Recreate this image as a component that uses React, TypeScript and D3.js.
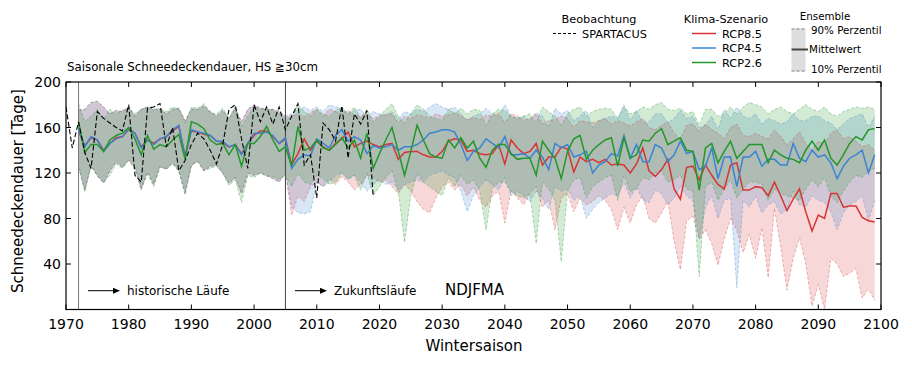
import React from 'react';
import * as d3 from 'd3';

// ---------- DATA ----------
const OBS_START = 1970;
const obsSpartacus = [
  178, 142, 165, 138, 124, 174, 168, 164, 160, 157,
  180, 118, 112, 177, 178, 181, 143, 160, 122, 131,
  145, 155, 150, 140, 128, 145, 176, 180, 150, 124,
  180, 165, 178, 163, 178, 158, 170, 181, 127, 136,
  98, 164, 158, 148, 179, 133, 172, 163, 175, 100,
];

const HIST_START = 1972;
const histMeanR = [
  157, 144, 151, 149, 140, 146, 151, 152,
  158, 155, 143, 149, 146, 150, 152, 157, 161, 135,
  157, 156, 154, 153, 148, 147, 143, 145, 137, 146,
  153, 157, 157, 152, 146, 150,
];
const histMeanB = [
  158, 143, 152, 149, 139, 146, 150, 152,
  159, 155, 142, 149, 145, 150, 152, 158, 162, 134,
  158, 156, 155, 153, 148, 148, 143, 145, 136, 146,
  155, 155, 156, 153, 146, 151,
];
const histMeanG = [
  165, 138, 145, 145, 139, 149, 153, 155,
  160, 150, 136, 153, 141, 145, 143, 149, 154, 132,
  165, 163, 159, 149, 145, 146, 136, 145, 126, 146,
  146, 152, 161, 149, 139, 143,
];
const histP90RB = [
  175, 176, 182, 183, 178, 172, 175, 174,
  178, 170, 176, 178, 176, 176, 172, 176, 177, 166,
  176, 176, 179, 174, 170, 175, 168, 177, 165, 176,
  180, 177, 176, 176, 174, 170,
];
const histP10RB = [
  125, 105, 126, 118, 111, 122, 130, 125,
  131, 124, 105, 121, 110, 126, 123, 129, 122, 101,
  127, 130, 122, 126, 127, 120, 111, 116, 102, 120,
  118, 120, 118, 115, 112, 120,
];
const histP90G = [
  181, 165, 170, 176, 167, 176, 172, 175,
  177, 172, 176, 178, 175, 177, 174, 178, 176, 164,
  178, 177, 181, 173, 172, 177, 168, 179, 161, 170,
  178, 176, 177, 175, 172, 168,
];
const histP10G = [
  128, 103, 127, 117, 112, 118, 128, 124,
  132, 126, 107, 119, 108, 125, 124, 128, 121, 104,
  126, 131, 122, 124, 126, 120, 109, 114, 94, 118,
  116, 120, 117, 117, 114, 118,
];

const FUT_START = 2006;
const futMeanR = [
  127, 137, 150, 140,
  148, 143, 140, 146, 150, 156, 143, 146, 148, 145,
  143, 145, 146, 132, 138, 139, 139, 136, 134, 134,
  139, 148, 150, 149, 139, 140, 137, 136, 137, 145,
  128, 149, 142, 137, 139, 146, 127, 134, 134, 143,
  141, 121, 134, 130, 132, 129, 132, 127, 128, 127,
  120, 128, 142, 122, 117, 123, 132, 106, 97, 125,
  126, 114, 127, 118, 110, 106, 127, 129, 105, 105,
  108, 107, 100, 112, 100, 87, 97, 106, 86, 69,
  83, 80, 102, 102, 90, 91, 91, 81, 78, 77,
];
const futMeanB = [
  124, 132, 136, 135,
  150, 146, 142, 153, 158, 148, 152, 149, 137, 144,
  142, 143, 145, 140, 143, 143, 145, 149, 155, 156,
  158, 158, 156, 145, 131, 139, 142, 150, 146, 142,
  152, 136, 136, 137, 133, 140, 134, 123, 146, 142,
  145, 134, 136, 139, 120, 127, 130, 137, 135, 153,
  133, 145, 130, 130, 145, 142, 130, 136, 148, 137,
  139, 123, 126, 142, 115, 134, 134, 108, 134, 134,
  139, 126, 132, 132, 127, 127, 146, 133, 130, 140,
  134, 136, 129, 115, 126, 133, 136, 140, 120, 136,
];
const futMeanG = [
  126, 161, 140, 142,
  149, 142, 140, 145, 151, 142, 149, 133, 155, 124,
  137, 149, 160, 139, 118, 139, 162, 149, 137, 134,
  133, 149, 142, 151, 142, 148, 133, 125, 140, 145,
  145, 137, 132, 133, 133, 118, 148, 140, 133, 115,
  139, 150, 153, 132, 140, 145, 149, 151, 126, 151,
  133, 136, 149, 148, 155, 159, 145, 148, 151, 140,
  139, 105, 142, 146, 129, 139, 148, 133, 139, 145,
  145, 145, 129, 140, 136, 133, 132, 129, 140, 148,
  140, 149, 133, 127, 136, 146, 152, 149, 158, 159,
];
const futP90R = [
  170, 172, 169, 173,
  176, 170, 176, 174, 172, 175, 171, 170, 172, 168,
  170, 171, 172, 164, 170, 168, 171, 170, 168, 172,
  170, 171, 173, 170, 167, 169, 167, 171, 170, 173,
  164, 172, 170, 166, 168, 172, 163, 166, 167, 170,
  168, 160, 166, 165, 164, 166, 168, 163, 166, 164,
  161, 165, 168, 160, 158, 162, 165, 155, 150, 162,
  163, 157, 163, 158, 155, 150, 160, 163, 153, 152,
  155, 152, 150, 158, 152, 145, 150, 156, 146, 140,
  148, 145, 155, 158, 150, 152, 148, 143, 145, 140,
];
const futP10R = [
  83, 100, 95, 108,
  112, 108, 115, 110, 117, 112, 105, 110, 118, 116,
  112, 114, 108, 102, 110, 104, 95, 88, 85, 98,
  108, 112, 105, 110, 100, 108, 96, 90, 100, 104,
  76, 105, 98, 92, 102, 108, 90, 96, 70, 98,
  102, 86, 98, 92, 95, 100, 96, 88, 70, 90,
  76, 92, 100, 80, 76, 85, 95, 60, 35, 78,
  82, 62, 70, 58, 39, 62, 80, 70, 50, 66,
  45, 72, 28, 89, 55, 17, 45, 63, 40, 3,
  22, 0, 45, 40, 29, 32, 36, 10, 18, 8,
];
const futP90B = [
  172, 176, 178, 175,
  178, 174, 180, 178, 177, 172, 175, 176, 170, 174,
  172, 171, 174, 168, 174, 172, 176, 174, 178, 181,
  178, 176, 178, 172, 166, 170, 172, 177, 172, 170,
  180, 170, 168, 170, 166, 173, 170, 160, 177, 172,
  175, 166, 170, 175, 160, 166, 168, 170, 168, 180,
  166, 175, 164, 165, 172, 172, 164, 168, 175, 168,
  170, 160, 162, 170, 158, 176, 168, 178, 170, 168,
  172, 163, 168, 166, 163, 165, 172, 166, 166, 170,
  170, 166, 164, 158, 163, 168, 170, 172, 160, 170,
];
const futP10B = [
  90, 85, 84, 86,
  112, 108, 112, 118, 120, 114, 118, 112, 104, 110,
  114, 110, 112, 105, 110, 112, 114, 112, 118, 120,
  122, 118, 116, 104, 86, 100, 108, 114, 110, 105,
  116, 100, 104, 100, 95, 104, 98, 88, 108, 104,
  106, 96, 100, 80, 88, 94, 98, 102, 100, 112,
  98, 108, 96, 94, 105, 102, 92, 98, 108, 100,
  96, 62, 90, 100, 80, 96, 98, 19, 96, 90,
  100, 85, 92, 95, 84, 88, 104, 92, 90, 100,
  96, 94, 86, 70, 85, 92, 95, 100, 78, 96,
];
const futP90G = [
  168, 180, 174, 170,
  176, 172, 170, 175, 178, 172, 178, 168, 176, 165,
  170, 176, 181, 170, 164, 172, 180, 176, 170, 168,
  166, 176, 172, 177, 172, 176, 175, 162, 172, 176,
  175, 170, 168, 170, 172, 164, 178, 174, 170, 162,
  172, 176, 178, 170, 174, 176, 177, 176, 168, 178,
  172, 174, 178, 176, 180, 182, 176, 175, 177, 172,
  174, 162, 176, 176, 170, 172, 178, 172, 178, 182,
  180, 178, 172, 176, 178, 174, 172, 176, 180, 176,
  174, 178, 172, 170, 174, 176, 178, 177, 178, 176,
];
const futP10G = [
  108, 120, 112, 110,
  118, 115, 110, 112, 120, 115, 118, 105, 120, 100,
  108, 116, 122, 104, 59, 100, 120, 112, 108, 104,
  100, 116, 108, 118, 110, 114, 104, 70, 106, 112,
  112, 104, 100, 98, 102, 58, 112, 106, 96, 42,
  104, 114, 116, 98, 108, 112, 116, 118, 96, 118,
  104, 106, 116, 114, 120, 122, 112, 114, 118, 106,
  104, 29, 108, 112, 96, 106, 114, 98, 106, 112,
  112, 110, 96, 106, 102, 100, 98, 96, 106, 114,
  108, 116, 100, 94, 104, 112, 118, 116, 122, 124,
];

const xTicks = [1970, 1980, 1990, 2000, 2010, 2020, 2030, 2040, 2050, 2060, 2070, 2080, 2090, 2100];
const yTicks = [40, 80, 120, 160, 200];
const periodMarks = [1972, 2005];

const scenarioNames = ['RCP8.5', 'RCP4.5', 'RCP2.6'];
const scenarioColors = ['#d63535', '#3a84d2', '#23972a'];

// ---------- LAYOUT ----------
const W = 912;
const H = 366;
const PL = 66, PR = 881, PT = 82, PB = 309.5;
const FONT = 'DejaVu Sans, sans-serif';

type Pt = { year: number; v: number };
type Band = { year: number; lo: number; hi: number };

function toPts(start: number, vals: number[]): Pt[] {
  return vals.map((v, i) => ({ year: start + i, v }));
}
function toBand(start: number, lo: number[], hi: number[]): Band[] {
  return lo.map((l, i) => ({ year: start + i, lo: l, hi: hi[i] }));
}

const scenarios = [
  {
    name: scenarioNames[0], color: scenarioColors[0],
    mean: toPts(HIST_START, histMeanR.concat(futMeanR)),
    band: toBand(HIST_START, histP10RB.concat(futP10R), histP90RB.concat(futP90R)),
  },
  {
    name: scenarioNames[1], color: scenarioColors[1],
    mean: toPts(HIST_START, histMeanB.concat(futMeanB)),
    band: toBand(HIST_START, histP10RB.concat(futP10B), histP90RB.concat(futP90B)),
  },
  {
    name: scenarioNames[2], color: scenarioColors[2],
    mean: toPts(HIST_START, histMeanG.concat(futMeanG)),
    band: toBand(HIST_START, histP10G.concat(futP10G), histP90G.concat(futP90G)),
  },
];
const obs = toPts(OBS_START, obsSpartacus);

export default function App() {
  const x = d3.scaleLinear().domain([1970, 2100]).range([PL, PR]);
  const y = d3.scaleLinear().domain([0, 200]).range([PB, PT]);

  const area = d3.area<Band>().x(d => x(d.year)).y0(d => y(d.lo)).y1(d => y(d.hi));
  const loLine = d3.line<Band>().x(d => x(d.year)).y(d => y(d.lo));
  const hiLine = d3.line<Band>().x(d => x(d.year)).y(d => y(d.hi));
  const line = d3.line<Pt>().x(d => x(d.year)).y(d => y(d.v));

  const tickLen = 5;

  return (
    <svg width={W} height={H} style={{ position: 'absolute', left: 0, top: 0, background: '#fff' }}
      fontFamily={FONT}>
      <defs>
        <clipPath id="plotclip">
          <rect x={PL} y={PT} width={PR - PL} height={PB - PT} />
        </clipPath>
      </defs>
      <rect x={0} y={0} width={W} height={H} fill="#fff" />

      <g clipPath="url(#plotclip)">
        {scenarios.map(s => (
          <path key={'f' + s.name} d={area(s.band) || ''} fill={s.color} fillOpacity={0.2} stroke="none" />
        ))}
        {scenarios.map(s => (
          <g key={'e' + s.name}>
            <path d={loLine(s.band) || ''} fill="none" stroke={s.color} strokeOpacity={0.45}
              strokeWidth={0.8} strokeDasharray="3,2" />
            <path d={hiLine(s.band) || ''} fill="none" stroke={s.color} strokeOpacity={0.45}
              strokeWidth={0.8} strokeDasharray="3,2" />
          </g>
        ))}
        {periodMarks.map((yr, i) => (
          <line key={'pm' + yr} x1={x(yr)} x2={x(yr)} y1={PT} y2={PB}
            stroke={i === 0 ? '#777' : '#444'} strokeWidth={1} />
        ))}
        {scenarios.map(s => (
          <path key={'m' + s.name} d={line(s.mean) || ''} fill="none" stroke={s.color} strokeWidth={1.5} />
        ))}
        <path d={line(obs) || ''} fill="none" stroke="#000" strokeWidth={1.1} strokeDasharray="5,2.5" />
      </g>

      {/* frame */}
      <rect x={PL} y={PT} width={PR - PL} height={PB - PT} fill="none" stroke="#000" strokeWidth={1.2} />

      {/* x ticks */}
      {xTicks.map(t => (
        <g key={'xt' + t}>
          <line x1={x(t)} x2={x(t)} y1={PB} y2={PB - tickLen} stroke="#000" />
          <line x1={x(t)} x2={x(t)} y1={PT} y2={PT + tickLen} stroke="#000" />
          <text x={x(t)} y={PB + 19} textAnchor="middle" fontSize={14} fill="#000">{t}</text>
        </g>
      ))}
      {/* y ticks */}
      {yTicks.map(t => (
        <g key={'yt' + t}>
          <line x1={PL} x2={PL + tickLen} y1={y(t)} y2={y(t)} stroke="#000" />
          <line x1={PR} x2={PR - tickLen} y1={y(t)} y2={y(t)} stroke="#000" />
          <text x={PL - 5} y={y(t) + 5} textAnchor="end" fontSize={14} fill="#000">{t}</text>
        </g>
      ))}

      {/* axis labels */}
      <text x={474} y={351} textAnchor="middle" fontSize={15} fill="#000">Wintersaison</text>
      <text transform="translate(23,191) rotate(-90)" textAnchor="middle" fontSize={15} fill="#000">
        Schneedeckendauer [Tage]
      </text>

      {/* title */}
      <text x={67} y={71} fontSize={11.8} fill="#000">Saisonale Schneedeckendauer, HS ≧30cm</text>

      {/* annotations */}
      <line x1={88} x2={114} y1={290.7} y2={290.7} stroke="#000" strokeWidth={1} />
      <path d="M120,290.7 L113,287.7 L113,293.7 Z" fill="#000" />
      <text x={127} y={295} fontSize={12} fill="#000">historische Läufe</text>
      <line x1={295} x2={321} y1={290.7} y2={290.7} stroke="#000" strokeWidth={1} />
      <path d="M327,290.7 L320,287.7 L320,293.7 Z" fill="#000" />
      <text x={334} y={295} fontSize={12} fill="#000">Zukunftsläufe</text>
      <text x={445} y={295} fontSize={15} fill="#000">NDJFMA</text>

      {/* legend: observation */}
      <text x={599} y={23} textAnchor="middle" fontSize={11.3} fill="#000">Beobachtung</text>
      <line x1={553} x2={576} y1={33.5} y2={33.5} stroke="#000" strokeWidth={1} strokeDasharray="3,2" />
      <text x={582} y={37.5} fontSize={11.3} fill="#000">SPARTACUS</text>

      {/* legend: scenarios */}
      <text x={726} y={23} textAnchor="middle" fontSize={11.3} fill="#000">Klima-Szenario</text>
      {scenarios.map((s, i) => (
        <g key={'lg' + s.name}>
          <line x1={692} x2={716} y1={33.5 + i * 14.5} y2={33.5 + i * 14.5} stroke={s.color} strokeWidth={1.5} />
          <text x={722} y={37.5 + i * 14.5} fontSize={11.3} fill="#000">{s.name}</text>
        </g>
      ))}

      {/* legend: ensemble */}
      <text x={825} y={19.5} textAnchor="middle" fontSize={10.3} fill="#000">Ensemble</text>
      <rect x={791.5} y={28.5} width={14} height={43} fill="#dddddd" />
      <line x1={791.5} x2={806} y1={29} y2={29} stroke="#888" strokeWidth={1} strokeDasharray="3,2" />
      <line x1={791.5} x2={806} y1={71} y2={71} stroke="#888" strokeWidth={1} strokeDasharray="3,2" />
      <line x1={791.5} x2={808} y1={49.5} y2={49.5} stroke="#444" strokeWidth={2} />
      <text x={811} y={33.5} fontSize={10.3} fill="#000">90% Perzentil</text>
      <text x={809} y={53} fontSize={10.3} fill="#000">Mittelwert</text>
      <text x={811} y={73} fontSize={10.3} fill="#000">10% Perzentil</text>
    </svg>
  );
}
